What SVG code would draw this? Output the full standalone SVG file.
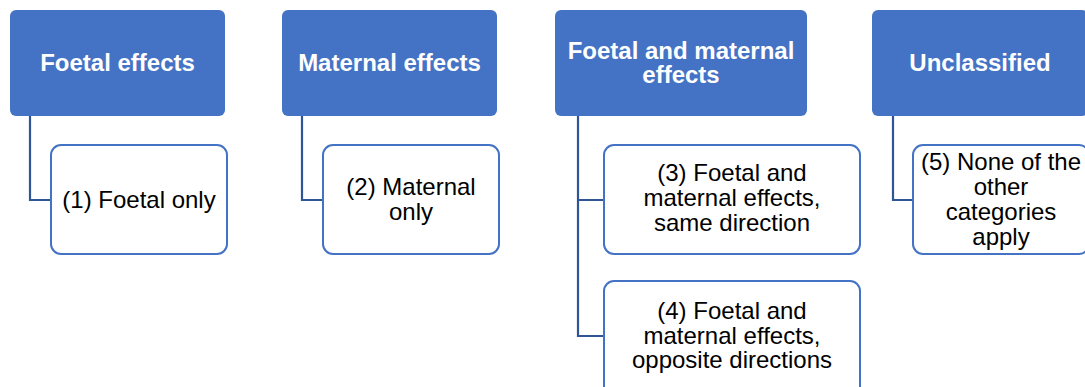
<svg xmlns="http://www.w3.org/2000/svg" width="1085" height="387" viewBox="0 0 1085 387">
<style>
.hdr{fill:#4472C4;}
.chl{fill:#FFFFFF;stroke:#4472C4;stroke-width:2;}
.ht{font-family:"Liberation Sans",Arial,sans-serif;font-weight:bold;font-size:24px;fill:#FFFFFF;text-anchor:middle;}
.ct{font-family:"Liberation Sans",Arial,sans-serif;font-size:24px;fill:#000000;text-anchor:middle;}
.con{fill:none;stroke:#2F5597;stroke-width:2.2;}
</style>
<rect width="1085" height="387" fill="#FFFFFF"/>
<g id="connectors">
<path class="con" d="M30,116 V200 H51"/>
<path class="con" d="M302,116 V200 H323"/>
<path class="con" d="M578,116 V336 H604 M578,200 H604"/>
<path class="con" d="M893,116 V200 H913"/>
</g>
<g id="h1"><rect class="hdr" x="10" y="10" width="215" height="106" rx="6"/><text class="ht" x="117.5" y="71">Foetal effects</text></g>
<g id="h2"><rect class="hdr" x="282" y="10" width="215" height="106" rx="6"/><text class="ht" x="389.5" y="71">Maternal effects</text></g>
<g id="h3"><rect class="hdr" x="555" y="10" width="252" height="106" rx="6"/><text class="ht" x="681" y="59">Foetal and maternal</text><text class="ht" x="681" y="83">effects</text></g>
<g id="h4"><rect class="hdr" x="872" y="10" width="216" height="106" rx="6"/><text class="ht" x="980" y="71">Unclassified</text></g>
<g id="c1"><rect class="chl" x="51" y="145" width="176" height="109" rx="10"/><text class="ct" x="139" y="208">(1) Foetal only</text></g>
<g id="c2"><rect class="chl" x="323" y="145" width="176" height="109" rx="10"/><text class="ct" x="411" y="195">(2) Maternal</text><text class="ct" x="411" y="220">only</text></g>
<g id="c3"><rect class="chl" x="604" y="145" width="256" height="109" rx="10"/><text class="ct" x="732" y="181">(3) Foetal and</text><text class="ct" x="732" y="206">maternal effects,</text><text class="ct" x="732" y="231">same direction</text></g>
<g id="c4"><rect class="chl" x="604" y="281" width="256" height="115" rx="10"/><text class="ct" x="732" y="319">(4) Foetal and</text><text class="ct" x="732" y="344">maternal effects,</text><text class="ct" x="732" y="368">opposite directions</text></g>
<g id="c5"><rect class="chl" x="913" y="145" width="176" height="109" rx="10"/><text class="ct" x="1001" y="170">(5) None of the</text><text class="ct" x="1001" y="195">other</text><text class="ct" x="1001" y="220">categories</text><text class="ct" x="1001" y="245">apply</text></g>
</svg>
